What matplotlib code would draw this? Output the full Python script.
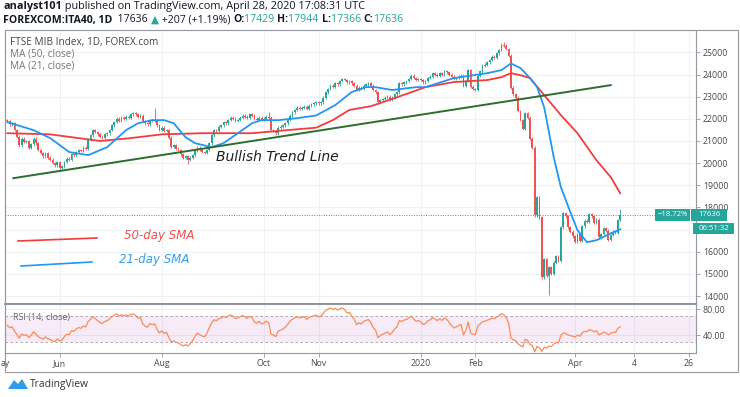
import numpy as np
import pandas as pd
import matplotlib
matplotlib.use("Agg")
import matplotlib.pyplot as plt
from matplotlib.patches import Rectangle, Polygon

plt.rcParams['font.family'] = ['Open Sans', 'DejaVu Sans']

# daily closes, FOREXCOM:ITA40, 2 May 2019 .. 28 Apr 2020
closes = [
    21900, 21750, 21800, 21500, 21200, 20800, 21100, 20950, 21000, 20700,
    20850, 21100, 20900, 20600, 20450, 20300, 20450, 20250, 20150, 20000,
    19900, 20050, 19800, 19850, 20050, 20200, 20150, 20400, 20350, 20500,
    20600, 20550, 20700, 20650, 21050, 21250, 21500, 21400, 21300, 21200,
    21150, 21300, 21350, 21500, 21700, 21850, 22000, 21900, 22050, 22000,
    22100, 22050, 22200, 22250, 22200, 22100, 22150, 21900, 21800, 21750,
    21950, 21900, 21950, 21700, 21500, 21600, 21450, 21500, 21150, 20750,
    20800, 20650, 20600, 20400, 20250, 20300, 20150, 20250, 20350, 20550,
    20700, 20600, 20500, 20450, 20600, 20900, 21250, 21500, 21450, 21650,
    21700, 21850, 21800, 21950, 22050, 22000, 21900, 21950, 22050, 22150,
    22100, 22050, 22200, 22150, 22000, 21950, 22050, 21950, 22000, 22100,
    22050, 21500, 21450, 21350, 21600, 21650, 21700, 21800, 21950, 22150,
    22300, 22400, 22500, 22450, 22500, 22550, 22450, 22600, 22650, 22700,
    22750, 22700, 22750, 22950, 23200, 23350, 23500, 23450, 23600, 23550,
    23700, 23800, 23750, 23650, 23700, 23600, 23500, 23300, 23400, 23350,
    23500, 23550, 23600, 23500, 23300, 23200, 22750, 22850, 22900, 22950,
    23000, 22850, 22950, 23100, 23200, 23600, 23550, 23650, 23700, 23800,
    23950, 23850, 23750, 23800, 23750, 23650, 23700, 23850, 23900, 24050,
    24000, 23950, 24050, 24000, 24150, 24100, 24000, 23900, 23800, 23850,
    23900, 23950, 23500, 23700, 24200, 23450, 23350, 23300, 23950, 24150,
    24400, 24450, 24550, 24650, 24800, 24750, 24950, 25100, 25350, 25300,
    25150, 24850, 23400, 23100, 22950, 22350, 21950, 21550, 22250, 22050,
    21100, 20700, 17650, 18450, 17550, 14850, 15650, 14900, 15300, 15000,
    15500, 15800, 15600, 17100, 17750, 17600, 17100, 16900, 16700, 16450,
    16800, 16500, 17150, 17400, 17350, 17700, 17600, 17300, 17450, 16650,
    16800, 17050, 16950, 16550, 16750, 16900, 16850, 17429, 17636,
]
first_open = 21950
wick_high = {62: 22500, 110: 22300, 209: 25480, 258: 17944}
wick_low = {22: 19650, 76: 19950, 228: 14050, 258: 17366}

# moving averages: (bar index, value)
ma50_idx = [0, 18, 39, 52, 65, 82, 103, 119, 130, 137, 144, 153, 158, 169, 176,
            188, 202, 208, 212, 216, 220, 226, 233, 240, 248, 254, 258]
ma50_val = [21350, 21300, 21000, 21130, 21300, 21350, 21350, 21500, 21600, 21940,
            22400, 22570, 22750, 23160, 23430, 23660, 23750, 23880, 24060, 23970,
            23840, 23070, 22170, 21350, 20130, 19370, 18640]
ma21_idx = [0, 11, 18, 26, 34, 42, 50, 55, 61, 66, 70, 75, 79, 86, 91, 97, 103,
            107, 114, 122, 130, 138, 145, 151, 155, 162, 172, 176, 188, 202, 208,
            212, 216, 220, 223, 226, 230, 233, 237, 240, 244, 248, 254, 258]
ma21_val = [21850, 21490, 21130, 20500, 20360, 20720, 21490, 21800, 21940, 21940,
            21800, 21170, 20900, 20720, 20900, 21350, 21800, 21940, 21940, 22030,
            22150, 22620, 23210, 23430, 23430, 23300, 23430, 23430, 23840, 24060,
            24200, 24500, 24290, 23840, 23430, 22520, 20270, 18920, 17790, 16970,
            16430, 16520, 16830, 17010]

trend_idx = [2.5, 254]
trend_val = [19320, 23520]

tick_dates = ['2019-05-01', '2019-06-03', '2019-08-01', '2019-10-01', '2019-11-01',
              '2020-01-01', '2020-02-03', '2020-04-01']
tick_names = ['ay', 'Jun', 'Aug', 'Oct', 'Nov', '2020', 'Feb', 'Apr']
future_ticks = [6, 29]          # bars after the last candle
future_names = ['4', '26']

price_ticks = list(range(14000, 26000, 1000))

GREEN = '#26a69a'
RED = '#ef5350'

n = len(closes)
dates = pd.bdate_range(end='2020-04-28', periods=n)
x = np.arange(n)
c = np.array(closes, float)
o = np.r_[first_open, c[:-1]]
hi = np.maximum(o, c) + 60
lo = np.minimum(o, c) - 60
for k, v in wick_high.items():
    hi[k] = v
for k, v in wick_low.items():
    lo[k] = v
up = c >= o
cols = np.where(up, GREEN, RED)

# RSI 14 (Wilder), neutral seed
d = np.diff(c, prepend=c[0])
g, l = 110.0, 90.0
rsi = []
for v in d:
    g = (g * 13 + max(v, 0)) / 14
    l = (l * 13 + max(-v, 0)) / 14
    rsi.append(100 - 100 / (1 + g / l))
rsi = np.array(rsi)

W, H = 740, 397
fig = plt.figure(figsize=(W / 100, H / 100), dpi=100)
fx = lambda px: px / W
fy = lambda py: 1 - py / H

ax = fig.add_axes([fx(5), fy(304), fx(696) - fx(5), fy(30) - fy(304)])
ar = fig.add_axes([fx(5), fy(353), fx(696) - fx(5), fy(304) - fy(353)], sharex=ax)

# candles
ax.vlines(x, lo, hi, colors=cols, lw=0.6, zorder=3)
body = np.maximum(np.abs(c - o), 30)
ax.bar(x, body, bottom=np.minimum(o, c), width=0.74, color=cols, lw=0, zorder=4)

ax.plot(ma50_idx, ma50_val, color='#f23c3c', lw=1.3, zorder=5)
ax.plot(ma21_idx, ma21_val, color='#2196f3', lw=1.3, zorder=5)
ax.plot(trend_idx, trend_val, color='#2c6e2f', lw=1.4, zorder=6)
ax.axhline(c[-1], color=GREEN, lw=0.7, ls=(0, (1, 1.5)), zorder=2)

ax.set_xlim(-0.4, 289.9)
ax.set_ylim(13640, 26010)

tpos = [int(dates.searchsorted(pd.Timestamp(t))) for t in tick_dates]
tpos[0] = -1.0
tpos += [n - 1 + f for f in future_ticks]
tnames = tick_names + future_names

for a in (ax, ar):
    a.set_xticks(tpos)
    a.grid(True, color='#eef1f6', lw=0.8, zorder=0)
    a.set_axisbelow(True)
    for s in a.spines.values():
        s.set_color('#9598a1')
        s.set_linewidth(0.8)
    a.yaxis.tick_right()
    a.tick_params(axis='y', length=3, width=0.6, color='#9598a1', labelsize=6.3,
                  labelcolor='#4a4a4a', pad=2)
ax.spines['top'].set_color('#d8dbe2')
ax.set_yticks(price_ticks)
# 17000 sits under the price tags, as in the snapshot
ax.set_yticklabels(['' if v == 17000 else str(v) for v in price_ticks])
ax.tick_params(axis='x', length=0, labelbottom=False)
ax.spines['bottom'].set_linewidth(1.2)
ax.spines['bottom'].set_color('#787b86')

# RSI panel
ar.axhspan(30, 70, color='#9c27b0', alpha=0.09, lw=0, zorder=1)
ar.axhline(70, color='#a59aa8', lw=0.6, ls=(0, (3, 3)), zorder=2)
ar.axhline(30, color='#a59aa8', lw=0.6, ls=(0, (3, 3)), zorder=2)
ar.plot(x, rsi, color='#fb8c54', lw=0.9, zorder=3)
ar.set_ylim(13.1, 87.7)
ar.set_yticks([40, 80])
ar.set_yticklabels(['40.00', '80.00'])
ar.set_xticklabels(tnames)
ar.tick_params(axis='x', length=3, width=0.6, color='#9598a1', labelsize=6.3,
               labelcolor='#4a4a4a', pad=1.5)
ar.text(0.012, 0.72, 'RSI (14, close)', transform=ar.transAxes, fontsize=6.5,
        color='#666666', va='center')

# outer frame
fig.patches.append(Rectangle((fx(5), fy(372)), fx(738) - fx(5), fy(30) - fy(372),
                             transform=fig.transFigure, fill=False, ec='#9598a1', lw=0.8))

# header
rend = fig.canvas.get_renderer()


def runs(px, py, parts, size):
    xx = fx(px)
    for txt, col, wt in parts:
        t = fig.text(xx, fy(py), txt, color=col, fontsize=size, fontweight=wt,
                     va='center', ha='left')
        xx += t.get_window_extent(rend).width / W


runs(3, 7, [('analyst101', '#131722', 'bold'),
            (' published on TradingView.com, April 28, 2020 17:08:31 UTC', '#131722', 'normal')], 7.8)
runs(3, 20, [('FOREXCOM:ITA40, 1D', '#131722', 'bold'),
             ('  17636 ', '#131722', 'normal'), ('▲', GREEN, 'normal'),
             (' +207 (+1.19%) ', '#131722', 'normal'),
             ('O:', '#131722', 'bold'), ('17429 ', GREEN, 'normal'),
             ('H:', '#131722', 'bold'), ('17944 ', GREEN, 'normal'),
             ('L:', '#131722', 'bold'), ('17366 ', GREEN, 'normal'),
             ('C:', '#131722', 'bold'), ('17636', GREEN, 'normal')], 7.6)

fig.text(fx(10), fy(42), 'FTSE MIB Index, 1D, FOREX.com', fontsize=7.2, color='#444444', va='center')
fig.text(fx(10), fy(54), 'MA (50, close)', fontsize=7.2, color='#777777', va='center')
fig.text(fx(10), fy(66), 'MA (21, close)', fontsize=7.2, color='#777777', va='center')

# drawings
fig.text(fx(216), fy(157), 'Bullish Trend Line', fontsize=10, style='italic',
         color='#1e1e1e', va='center', family='DejaVu Sans')
fig.lines.append(plt.Line2D([fx(18), fx(97)], [fy(241), fy(238)], color='#f23c3c', lw=1.2,
                            transform=fig.transFigure))
fig.lines.append(plt.Line2D([fx(21), fx(92)], [fy(266), fy(262)], color='#2196f3', lw=1.2,
                            transform=fig.transFigure))
fig.text(fx(124), fy(236), '50-day SMA', fontsize=8.5, style='italic', color='#f05050',
         va='center', family='DejaVu Sans')
fig.text(fx(119), fy(259), '21-day SMA', fontsize=8.5, style='italic', color='#2f9ff0',
         va='center', family='DejaVu Sans')

# price tags
for (x0, x1, y0, y1, txt) in [(655, 690, 209, 221, '\u221218.72%'),
                              (691, 727, 209, 221, '17636'),
                              (693, 734, 222.5, 234, '06:51:32')]:
    fig.patches.append(Rectangle((fx(x0), fy(y1)), fx(x1) - fx(x0), fy(y0) - fy(y1),
                                 transform=fig.transFigure, color=GREEN, lw=0))
    fig.text(fx((x0 + x1) / 2), fy((y0 + y1) / 2), txt, fontsize=5.6, color='white',
             ha='center', va='center')

# footer logo
fig.patches.append(Polygon([[fx(8), fy(389)], [fx(14), fy(380)], [fx(18), fy(384)],
                            [fx(22), fy(379)], [fx(28), fy(389)]],
                           closed=True, transform=fig.transFigure, color='#2f9bea', lw=0))
fig.text(fx(30), fy(385), 'TradingView', fontsize=7.4, color='#333333', va='center')

fig.savefig('out.png', dpi=100)
